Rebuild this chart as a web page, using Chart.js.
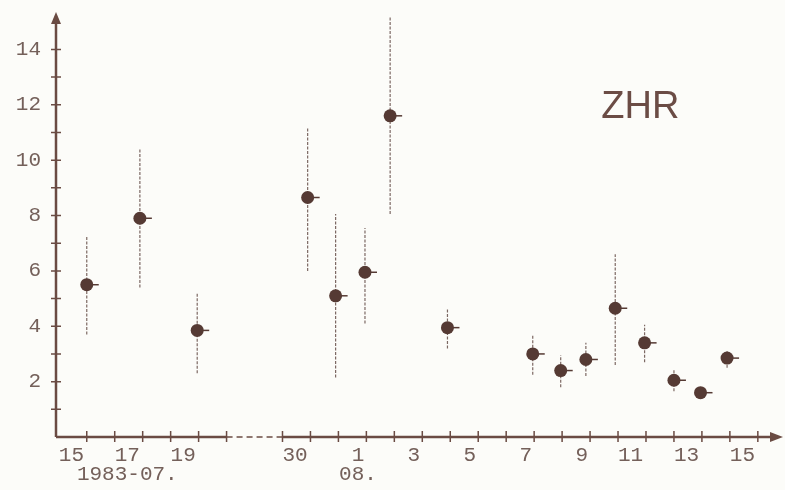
<!DOCTYPE html>
<html>
<head>
<meta charset="utf-8">
<title>ZHR 1983</title>
<script src="https://cdn.jsdelivr.net/npm/chart.js@4.4.0/dist/chart.umd.min.js"></script>
<style>
    html, body { margin: 0; padding: 0; background: #fcfcf9; }
    canvas { display: block; }
</style>
</head>
<body>
<canvas id="zhrChart" width="785" height="490"></canvas>
<script>
// observation nights 1983 (month, fractional day)
const obsMonth = [7, 7, 7, 7, 7, 8, 8, 8, 8, 8, 8, 8, 8, 8, 8, 8];
const obsDay = [16.0, 17.9, 19.95, 30.9, 31.9, 1.95, 2.85, 4.9, 7.95, 8.95, 9.85, 10.9, 11.95, 13.0, 13.95, 14.9];

// ZHR with error range
const zhr = [5.5, 7.9, 3.85, 8.65, 5.1, 5.95, 11.6, 3.95, 3.0, 2.4, 2.8, 4.65, 3.4, 2.05, 1.6, 2.85];
const zhrLow = [3.7, 5.4, 2.3, 6.0, 2.15, 4.1, 8.05, 3.2, 2.25, 1.8, 2.2, 2.6, 2.7, 1.65, 1.45, 2.5];
const zhrHigh = [7.25, 10.4, 5.2, 11.15, 8.05, 7.55, 15.2, 4.65, 3.7, 2.95, 3.4, 6.6, 4.05, 2.45, 1.75, 3.15];

// tick labels
const julyLabels = [15, 17, 19, 30];
const augLabels = [1, 3, 5, 7, 9, 11, 13, 15];
const monthCaptions = { 7: '1983-07.', 8: '08.' };
const yLabels = [2, 4, 6, 8, 10, 12, 14];

const ink = '#553a34';
const axisColor = '#6a4b43';
const textColor = '#74605a';

// the axis is broken between Jul 21 and Jul 30
function axisPos(month, day) {
    if (month === 7 && day < 25) return day - 15;
    if (month === 7) return day - 22;
    return day + 9;
}

// typed labels sit a bit to the right of the day's middle when they have one digit
function labelPos(month, day) {
    return axisPos(month, day) + (day < 10 ? 0.7 : 0.45);
}

const xTickValues = [];
const xTickText = [];
julyLabels.forEach(d => {
    xTickValues.push(labelPos(7, d));
    xTickText.push(d === 17 ? [String(d), monthCaptions[7]] : String(d));
});
augLabels.forEach(d => {
    xTickValues.push(labelPos(8, d));
    xTickText.push(d === 1 ? [String(d), monthCaptions[8]] : String(d));
});

const points = obsDay.map((d, i) => ({ x: axisPos(obsMonth[i], d), y: zhr[i] }));

const errorBars = {
    id: 'errorBars',
    beforeDatasetsDraw(chart) {
        const { ctx, scales: { x, y } } = chart;
        ctx.save();
        ctx.strokeStyle = '#7c6863';
        ctx.lineWidth = 1.2;
        ctx.setLineDash([3, 1.5]);
        points.forEach((p, i) => {
            const px = x.getPixelForValue(p.x);
            ctx.beginPath();
            ctx.moveTo(px, y.getPixelForValue(zhrLow[i]));
            ctx.lineTo(px, y.getPixelForValue(zhrHigh[i]));
            ctx.stroke();
        });
        // little stub to the right of every dot
        ctx.setLineDash([]);
        ctx.strokeStyle = ink;
        ctx.lineWidth = 1.5;
        points.forEach(p => {
            const px = x.getPixelForValue(p.x);
            const py = y.getPixelForValue(p.y);
            ctx.beginPath();
            ctx.moveTo(px, py);
            ctx.lineTo(px + 12, py);
            ctx.stroke();
        });
        ctx.restore();
    }
};

const axesLines = {
    id: 'axesLines',
    beforeDatasetsDraw(chart) {
        const { ctx, chartArea: area, scales: { x, y } } = chart;
        const x0 = area.left;
        const y0 = area.bottom;
        ctx.save();
        ctx.strokeStyle = axisColor;
        ctx.fillStyle = axisColor;
        ctx.lineWidth = 2.5;

        // y axis with arrow
        ctx.beginPath();
        ctx.moveTo(x0, y0);
        ctx.lineTo(x0, area.top + 8);
        ctx.stroke();
        ctx.beginPath();
        ctx.moveTo(x0, area.top);
        ctx.lineTo(x0 - 5, area.top + 12);
        ctx.lineTo(x0 + 5, area.top + 12);
        ctx.closePath();
        ctx.fill();

        // x axis, solid / dashed break / solid, arrow
        const breakA = x.getPixelForValue(axisPos(7, 21));
        const breakB = x.getPixelForValue(axisPos(7, 30));
        ctx.beginPath();
        ctx.moveTo(x0, y0);
        ctx.lineTo(breakA, y0);
        ctx.moveTo(breakB, y0);
        ctx.lineTo(area.right - 8, y0);
        ctx.stroke();
        ctx.save();
        ctx.lineWidth = 1.5;
        ctx.setLineDash([6, 4]);
        ctx.beginPath();
        ctx.moveTo(breakA, y0);
        ctx.lineTo(breakB, y0);
        ctx.stroke();
        ctx.restore();
        ctx.beginPath();
        ctx.moveTo(area.right, y0);
        ctx.lineTo(area.right - 13, y0 - 5);
        ctx.lineTo(area.right - 13, y0 + 5);
        ctx.closePath();
        ctx.fill();

        // tick marks crossing the axes
        ctx.lineWidth = 1.5;
        ctx.beginPath();
        for (let v = 1; v <= 14; v++) {
            const py = y.getPixelForValue(v);
            ctx.moveTo(x0 - 5, py);
            ctx.lineTo(x0 + 5, py);
        }
        const dayTicks = [];
        for (let d = 16; d <= 21; d++) dayTicks.push(axisPos(7, d));
        for (let d = 30; d <= 31; d++) dayTicks.push(axisPos(7, d));
        for (let d = 1; d <= 16; d++) dayTicks.push(axisPos(8, d));
        dayTicks.forEach(v => {
            const px = x.getPixelForValue(v);
            ctx.moveTo(px, y0 - 6);
            ctx.lineTo(px, y0 + 5);
        });
        ctx.stroke();
        ctx.restore();
    },
    afterDraw(chart) {
        const { ctx, scales: { x, y } } = chart;
        ctx.save();
        ctx.fillStyle = '#6b4c45';
        ctx.font = '38px "Liberation Sans", Arial, sans-serif';
        ctx.textAlign = 'center';
        ctx.textBaseline = 'middle';
        ctx.fillText('ZHR', x.getPixelForValue(20.8), y.getPixelForValue(11.9));
        ctx.restore();
    }
};

new Chart(document.getElementById('zhrChart'), {
    type: 'scatter',
    data: {
        datasets: [{
            label: 'ZHR',
            data: points,
            backgroundColor: ink,
            borderWidth: 0,
            pointRadius: 6.5,
            pointHoverRadius: 6.5
        }]
    },
    options: {
        responsive: false,
        animation: false,
        layout: { autoPadding: false, padding: { top: 12, right: 2, left: 0, bottom: 0 } },
        plugins: {
            legend: { display: false },
            tooltip: { enabled: false }
        },
        scales: {
            x: {
                type: 'linear',
                min: -0.1,
                max: 25.9,
                grid: { display: false, drawTicks: false },
                border: { display: false },
                afterBuildTicks: scale => {
                    scale.ticks = xTickValues.map(v => ({ value: v }));
                },
                afterFit: scale => {
                    scale.height = 53;
                    scale.paddingLeft = 0;
                    scale.paddingRight = 0;
                },
                ticks: {
                    padding: 8,
                    autoSkip: false,
                    maxRotation: 0,
                    color: textColor,
                    font: { family: '"Liberation Mono", monospace', size: 21, lineHeight: 0.95 },
                    callback: (value, index) => xTickText[index]
                }
            },
            y: {
                min: 0,
                max: 15.35,
                grid: { display: false, drawTicks: false },
                border: { display: false },
                afterBuildTicks: scale => {
                    scale.ticks = yLabels.map(v => ({ value: v }));
                },
                afterFit: scale => {
                    scale.width = 56;
                    scale.paddingTop = 0;
                    scale.paddingBottom = 0;
                },
                ticks: {
                    padding: 15,
                    color: textColor,
                    font: { family: '"Liberation Mono", monospace', size: 21 },
                    callback: value => String(value)
                }
            }
        }
    },
    plugins: [errorBars, axesLines]
});
</script>
</body>
</html>
